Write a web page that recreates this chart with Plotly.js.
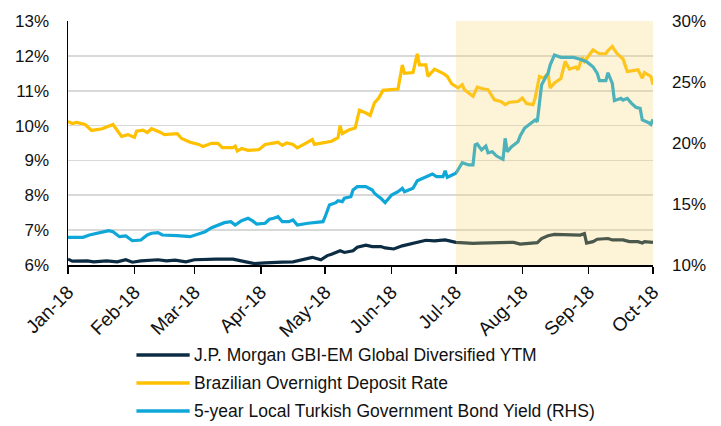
<!DOCTYPE html>
<html>
<head>
<meta charset="utf-8">
<script src="https://cdn.plot.ly/plotly-3.0.1.min.js"></script>
<style>html,body{margin:0;padding:0;background:#fff;}#chart{width:721px;height:426px;}</style>
</head>
<body>
<div id="chart"></div>
<script>
// ---- Data ----
const seriesNames = [
  "J.P. Morgan GBI-EM Global Diversified YTM",
  "Brazilian Overnight Deposit Rate",
  "5-year Local Turkish Government Bond Yield (RHS)"
];

const jpmDates = ["01-01","01-03","01-10","01-13","01-19","01-24","01-28","01-31","02-04","02-12","02-16","02-20","02-25","03-01","03-11","03-19","03-25","03-29","04-03","04-07","04-11","04-16","04-21","04-25","04-29","05-02","05-04","05-08","05-10","05-14","05-16","05-20","05-23","05-27","05-29","06-02","06-06","06-11","06-17","06-21","06-26","07-01","07-05","07-09","07-12","07-17","07-23","07-28","07-31","08-05","08-08","08-10","08-13","08-16","08-21","08-23","08-28","08-30","08-31","09-03","09-05","09-10","09-12","09-17","09-20","09-24","09-26","09-27","10-01"];
const jpmValues = [6.17,6.11,6.12,6.09,6.12,6.09,6.15,6.08,6.12,6.15,6.12,6.14,6.09,6.15,6.17,6.17,6.09,6.04,6.06,6.08,6.08,6.09,6.15,6.22,6.15,6.27,6.31,6.41,6.36,6.41,6.51,6.57,6.53,6.53,6.49,6.46,6.55,6.63,6.71,6.69,6.72,6.65,6.63,6.62,6.63,6.64,6.66,6.65,6.60,6.62,6.64,6.76,6.84,6.88,6.88,6.86,6.86,6.90,6.63,6.67,6.74,6.76,6.72,6.72,6.67,6.67,6.63,6.67,6.65];

const brlDates = ["01-01","01-03","01-05","01-09","01-12","01-17","01-22","01-26","01-29","02-01","02-02","02-05","02-07","02-09","02-13","02-15","02-21","02-23","02-27","03-03","03-05","03-09","03-12","03-14","03-19","03-20","03-21","03-23","03-26","03-31","04-03","04-05","04-09","04-11","04-13","04-16","04-18","04-21","04-25","04-26","04-30","05-04","05-07","05-08","05-09","05-12","05-15","05-17","05-20","05-22","05-24","05-26","05-28","06-04","06-06","06-07","06-11","06-12","06-13","06-14","06-17","06-18","06-21","06-25","06-27","06-29","07-02","07-04","07-05","07-09","07-11","07-14","07-16","07-19","07-22","07-24","07-26","07-30","08-01","08-03","08-06","08-07","08-09","08-11","08-13","08-14","08-16","08-19","08-21","08-23","08-26","08-27","08-29","08-30","09-03","09-06","09-09","09-10","09-12","09-14","09-17","09-19","09-22","09-24","09-26","09-27","09-30","10-01"];
const brlValues = [10.12,10.06,10.09,10.03,9.86,9.91,10.03,9.69,9.74,9.66,9.84,9.87,9.80,9.91,9.81,9.74,9.77,9.63,9.52,9.46,9.40,9.49,9.49,9.37,9.37,9.41,9.27,9.34,9.29,9.31,9.46,9.48,9.52,9.43,9.50,9.46,9.36,9.46,9.60,9.46,9.50,9.55,9.65,10.00,9.77,9.87,9.93,10.44,10.36,10.29,10.65,10.79,11.01,11.05,11.74,11.50,11.52,11.77,12.06,11.74,11.74,11.41,11.62,11.50,11.41,11.20,11.08,11.17,11.03,10.84,11.10,11.05,11.03,10.74,10.69,10.60,10.67,10.69,10.79,10.63,10.60,10.79,11.41,11.36,11.50,11.08,11.22,11.35,11.84,11.62,11.68,11.60,11.96,11.84,12.17,12.06,12.06,12.15,12.27,12.08,11.91,11.55,11.58,11.60,11.36,11.52,11.41,11.17];

const tryDates = ["01-01","01-08","01-11","01-15","01-20","01-22","01-25","01-28","01-31","02-04","02-07","02-09","02-12","02-14","02-17","02-21","02-27","03-03","03-06","03-09","03-12","03-15","03-18","03-20","03-23","03-26","03-28","03-30","04-03","04-05","04-07","04-09","04-11","04-14","04-16","04-18","04-23","04-30","05-01","05-03","05-06","05-07","05-09","05-10","05-13","05-14","05-16","05-20","05-23","05-24","05-26","05-27","05-29","06-01","06-04","06-06","06-07","06-11","06-13","06-17","06-20","06-22","06-25","06-26","06-27","07-01","07-04","07-07","07-09","07-10","07-11","07-13","07-15","07-16","07-18","07-20","07-23","07-24","07-25","07-27","07-30","07-31","08-02","08-05","08-07","08-08","08-09","08-10","08-12","08-13","08-14","08-16","08-19","08-25","08-28","08-31","09-03","09-05","09-06","09-09","09-10","09-12","09-13","09-16","09-17","09-19","09-21","09-23","09-25","09-26","09-29","09-30","10-01"];
const tryValues = [12.27,12.27,12.46,12.60,12.81,12.73,12.32,12.38,11.99,12.05,12.46,12.60,12.65,12.46,12.46,12.41,12.32,12.52,12.73,13.06,13.28,13.47,13.55,13.28,13.63,13.83,13.63,13.36,13.42,13.75,13.83,13.96,13.55,13.55,13.69,13.28,13.42,13.55,13.96,14.92,15.11,15.27,15.19,15.47,15.60,16.15,16.42,16.42,16.15,15.88,15.60,15.47,15.11,15.74,16.01,16.29,16.01,16.29,16.91,17.19,17.46,17.24,17.24,17.73,17.19,17.52,18.39,18.20,18.20,19.84,19.92,19.43,19.75,19.20,19.29,18.93,18.66,20.38,19.29,19.70,20.11,20.57,21.20,21.61,21.89,21.75,23.25,24.75,25.43,25.71,26.39,27.21,27.02,27.02,26.86,26.67,26.25,25.71,25.11,25.11,25.76,24.89,23.47,23.66,23.52,23.66,23.25,22.93,22.84,21.89,21.66,21.52,21.94];

const tickVals = ["2018-01-01","2018-02-01","2018-03-01","2018-04-01","2018-05-01","2018-06-01","2018-07-01","2018-08-01","2018-09-01","2018-10-01"];
const tickText = ["Jan-18","Feb-18","Mar-18","Apr-18","May-18","Jun-18","Jul-18","Aug-18","Sep-18","Oct-18"];
const shadeStart = "2018-07-01";
const shadeEnd = "2018-10-01";

// ---- Styles ----
const colors = ["#0c2c43", "#ffc000", "#0fa6d8"];
const year = "2018-";
const full = d => d.map(s => year + s);
const FONT = "Liberation Sans, Arial, sans-serif";

const traces = [
  {x: full(jpmDates), y: jpmValues, yaxis: "y", name: seriesNames[0]},
  {x: full(brlDates), y: brlValues, yaxis: "y", name: seriesNames[1]},
  {x: full(tryDates), y: tryValues, yaxis: "y2", name: seriesNames[2]}
].map((t, i) => Object.assign(t, {
  type: "scatter", mode: "lines", showlegend: false,
  line: {color: colors[i], width: 3.2}, hoverinfo: "skip"
}));

// custom legend (line samples + text)
const legY = [-0.369, -0.484, -0.598];
const shapes = [{
  type: "rect", xref: "x", yref: "paper", x0: shadeStart, x1: shadeEnd, y0: 0, y1: 1,
  fillcolor: "rgb(248,211,107)", opacity: 0.27, line: {width: 0}, layer: "above"
}];
const annotations = [];
seriesNames.forEach((n, i) => {
  shapes.push({type: "line", xref: "paper", yref: "paper", x0: 0.117, x1: 0.208, y0: legY[i], y1: legY[i],
    line: {color: colors[i], width: 3.5}});
  annotations.push({xref: "paper", yref: "paper", x: 0.212, y: legY[i], xanchor: "left", yanchor: "middle",
    text: n, showarrow: false, font: {family: FONT, size: 17.5, color: "#111"}});
});

const layout = {
  width: 721, height: 426,
  margin: {l: 68, r: 68, t: 21, b: 161},
  paper_bgcolor: "#fff", plot_bgcolor: "#fff",
  font: {family: FONT, color: "#111"},
  xaxis: {
    type: "date", range: ["2018-01-01", "2018-10-01"],
    tickvals: tickVals, ticktext: tickText, tickangle: -45,
    tickfont: {size: 19, family: FONT, color: "#111"},
    showgrid: false, showline: true, linecolor: "#000", linewidth: 1.5,
    ticks: "outside", ticklen: 7, tickwidth: 1.5, tickcolor: "#000", zeroline: false
  },
  yaxis: {
    range: [6, 13], dtick: 1, ticksuffix: "%",
    tickfont: {size: 17, family: FONT, color: "#111"},
    showgrid: true, gridcolor: "#d9d9d9", gridwidth: 1.8,
    showline: true, linecolor: "#000", linewidth: 1.5, zeroline: false,
    ticks: "", ticklabelstandoff: 14
  },
  yaxis2: {
    overlaying: "y", side: "right", range: [10, 30], dtick: 5, ticksuffix: "%",
    tickfont: {size: 17, family: FONT, color: "#111"},
    showgrid: false, showline: false, zeroline: false, ticks: "", ticklabelstandoff: 18
  },
  shapes: shapes,
  annotations: annotations
};

Plotly.newPlot("chart", traces, layout, {displayModeBar: false, staticPlot: true});
</script>
</body>
</html>
